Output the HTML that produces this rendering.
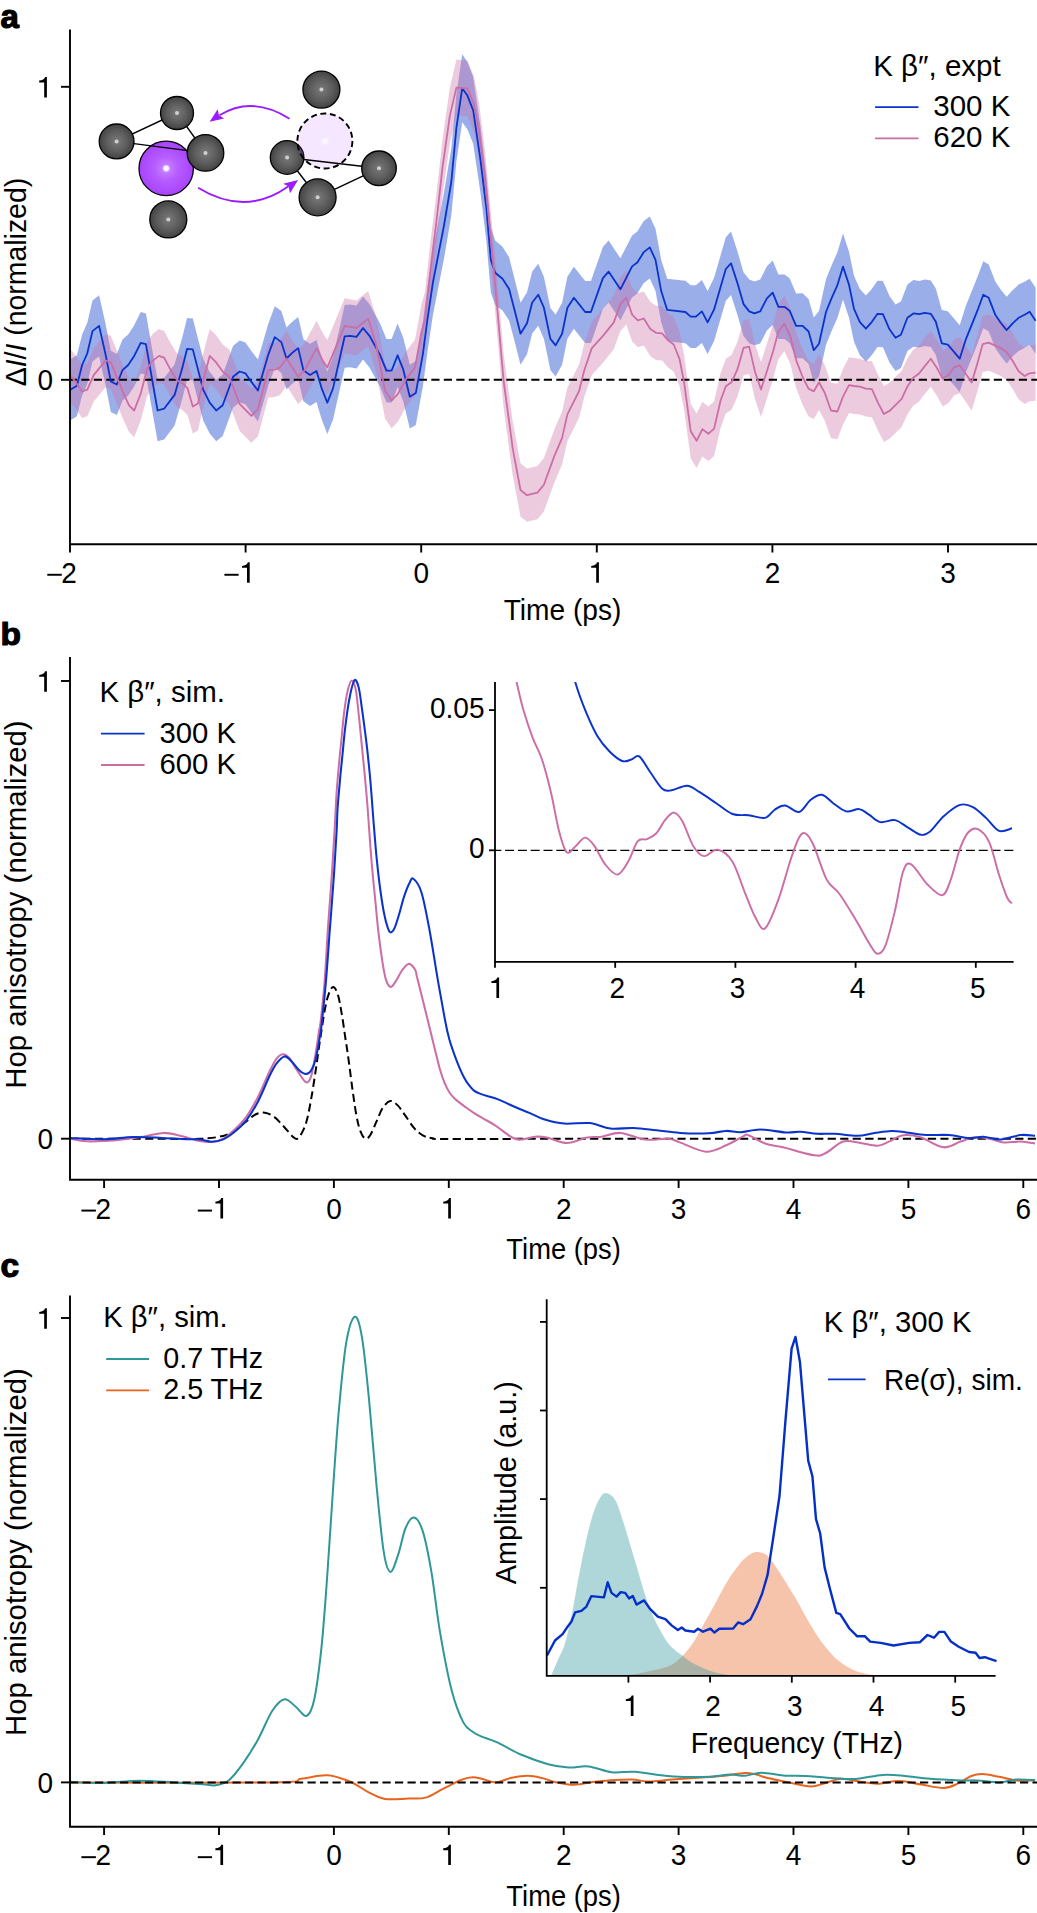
<!DOCTYPE html>
<html><head><meta charset="utf-8"><title>Figure</title>
<style>
html,body{margin:0;padding:0;background:#fff;}
body{width:1037px;height:1913px;overflow:hidden;}
svg{display:block;font-family:"Liberation Sans", sans-serif;}
svg text{fill:#000;}
</style></head><body>
<svg width="1037" height="1913" viewBox="0 0 1037 1913">
<rect width="1037" height="1913" fill="#fff"/>
<text x="0" y="0" transform="translate(0.6 27.7) scale(1 1.0)" font-size="33" text-anchor="start" font-weight="bold" stroke="#000" stroke-width="1.2" stroke-linejoin="round">a</text>
<path d="M70.4 359.2 L76.9 355.3 L82.1 334.5 L87.3 322.8 L92.5 300.6 L99.1 295.3 L105.6 324 L110.8 350.8 L116.8 353.9 L122.5 339.6 L128.2 334.4 L134.2 325.3 L140.7 312.1 L145.9 313.4 L157.6 379.8 L164.1 378 L174.6 364.2 L182.4 336.9 L187.1 318 L192.8 318.6 L203.2 358.9 L209.7 371.9 L216.2 379.7 L222.7 374.5 L233.1 345.8 L239.7 340.6 L245.4 342.4 L251.4 351 L257.9 359.6 L268.3 323.7 L274.8 306.2 L281.3 311.1 L286.5 327.5 L291.7 322.3 L298.2 317.1 L303.4 339.2 L310 343.8 L316.5 339.9 L321.7 357.2 L327.3 371.5 L333 357.1 L344.7 304.9 L349.9 304.4 L356.5 305.4 L363 296.5 L369.5 304.2 L379.9 322.9 L386.4 339 L391.6 338.9 L397.6 323.5 L403.3 337.8 L409.8 364.8 L415.8 361.1 L422.8 322.5 L427.5 286.6 L433 249.4 L443.9 192.9 L451.3 148.5 L456.4 94.2 L462.2 54.3 L467.4 61.9 L473.2 76.9 L480.5 127.1 L486.4 175.7 L490.8 227.2 L495.2 240.5 L502.5 246.8 L509.1 257.3 L515.3 281.7 L520.5 302.7 L527 292.3 L532.2 271.5 L538.2 263.7 L543.9 276.7 L550.4 307.9 L555.6 314.4 L562.1 302.7 L567.4 276.7 L573.9 266.8 L580 274.4 L585.2 281 L590.9 281 L602.9 247.1 L608.6 240.6 L620.4 258.3 L632.1 235.4 L637.3 231.5 L643.8 221.1 L649.8 216.4 L655.5 228.8 L661.2 260 L667.2 278.7 L673.7 279.5 L685.4 280.7 L690.7 285.2 L695.9 285.2 L701.9 279.9 L707.6 290.9 L714.1 277.8 L725.8 237.3 L731 231.6 L737.5 251.5 L743.5 272.2 L749.2 279.5 L754.4 281.4 L760.2 279.4 L766.9 266.3 L772.7 260.5 L778.4 274.6 L784.4 274.5 L789.6 278.3 L796.1 293.4 L802.6 293.3 L808.6 298.9 L813.8 317.6 L819 311 L826 279.2 L831.3 266 L837.4 252.3 L843 233.6 L849 251.8 L854 275.8 L859.9 289.1 L865.9 295.6 L871.9 288.7 L877.5 280.7 L882.9 281.1 L889.5 296.1 L895.5 304.5 L900.9 301.5 L907.4 284.6 L913.4 280.1 L919.4 280.9 L924.8 279.5 L930.8 280.5 L935.8 288.5 L941.8 309.9 L947.8 311.3 L953.8 318.3 L959.7 325.3 L965.7 306.3 L972.1 290.3 L978.1 275.3 L983.3 261.3 L988.7 264.4 L995.3 281.4 L1000.7 289.5 L1006.6 296.8 L1012.6 290.2 L1018.6 284.6 L1024.6 281.7 L1029.6 278.7 L1035.6 287.8 L1035.6 353.8 L1029.6 344.9 L1024.6 347.9 L1018.6 351 L1012.6 356.6 L1006.6 363.4 L1000.7 356.1 L995.3 348.2 L988.7 331.2 L983.3 328.3 L978.1 342.3 L972.1 357.3 L965.7 373.1 L959.7 392.1 L953.8 385.1 L947.8 378.1 L941.8 376.7 L935.8 355.1 L930.8 347.1 L924.8 346.1 L919.4 347.5 L913.4 346.7 L907.4 351 L900.9 367.9 L895.5 370.9 L889.5 362.5 L882.9 347.3 L877.5 346.9 L871.9 354.9 L865.9 361.8 L859.9 355.3 L854 341.8 L849 317.8 L843 299.6 L837.4 318.1 L831.3 331.8 L826 344.8 L819 376.4 L813.8 382.8 L808.6 364.1 L802.6 358.3 L796.1 358.2 L789.6 343.1 L784.4 339.1 L778.4 339 L772.7 324.9 L766.9 330.5 L760.2 343.4 L754.4 345.2 L749.2 343.3 L743.5 336 L737.5 315.1 L731 295 L725.8 300.7 L714.1 341 L707.6 353.9 L701.9 342.9 L695.9 348 L690.7 348 L685.4 343.3 L673.7 341.9 L667.2 341.1 L661.2 322.2 L655.5 290.9 L649.8 278.4 L643.8 283.1 L637.3 293.5 L632.1 297.4 L620.4 320.3 L608.6 302.6 L602.9 309.1 L590.9 343 L585.2 343 L580 336.4 L573.9 328.8 L567.4 338.7 L562.1 364.7 L555.6 376.4 L550.4 369.9 L543.9 338.7 L538.2 325.7 L532.2 333.5 L527 354.3 L520.5 364.7 L515.3 344.1 L509.1 320.5 L502.5 310.6 L495.2 305.1 L490.8 292.2 L486.4 241.1 L480.5 193.1 L473.2 143.7 L467.4 129.3 L462.2 122.3 L456.4 161.6 L451.3 215.5 L443.9 259.1 L433 314.6 L427.5 351.4 L422.8 386.7 L415.8 425.1 L409.8 428.6 L403.3 401.6 L397.6 387.1 L391.6 402.5 L386.4 402.4 L379.9 386.3 L369.5 367.4 L363 359.5 L356.5 368.4 L349.9 367.2 L344.7 367.7 L333 419.7 L327.3 433.9 L321.7 419.6 L316.5 402.1 L310 406 L303.4 401.2 L298.2 379.1 L291.7 384.3 L286.5 389.5 L281.3 373.1 L274.8 368 L268.3 385.5 L257.9 421.4 L251.4 412.8 L245.4 404.2 L239.7 402.4 L233.1 407.6 L222.7 436.1 L216.2 441.3 L209.7 433.5 L203.2 420.5 L192.8 380.2 L187.1 379.6 L182.4 398.3 L174.6 425.6 L164.1 439.4 L157.6 441.2 L145.9 374.8 L140.7 373.5 L134.2 386.5 L128.2 395.6 L122.5 400.8 L116.8 415.1 L110.8 412 L105.6 385.2 L99.1 356.5 L92.5 361.6 L87.3 383.8 L82.1 395.5 L76.9 416.3 L70.4 420.2 Z" fill="rgba(25,70,205,0.44)" stroke="none"/>
<path d="M70.4 348.9 L75.6 355.4 L82.1 365 L87.3 363.1 L93.8 348.3 L105.6 334 L110.8 335.7 L122.5 364.3 L129 378.6 L134.2 383.8 L140.7 366.8 L147.2 342.1 L152.4 334.3 L158.9 329.1 L164.1 330.8 L170.7 343.3 L177.2 353.7 L182.4 356.3 L187.6 361.4 L192.8 379.6 L198 376.5 L203.2 353.6 L209.7 328.9 L216.2 335.3 L222.7 344.4 L229.2 349.6 L239.7 376.9 L251.4 388.6 L257.9 382 L268.3 342.9 L274.8 342.4 L280 340.3 L286.5 331.2 L298.2 349.3 L304.8 342.8 L316.5 320.7 L323 333.6 L327.3 340.1 L344.7 298.3 L356.5 300.4 L368.2 291 L376 316.4 L385.1 363.3 L391.6 372.9 L398.1 365.8 L405.9 351.5 L415 339.8 L421.5 304.2 L424.9 292.2 L430.8 239.1 L436.6 192.2 L442.5 139.5 L449.8 88.1 L456.4 59.6 L467.4 60.4 L474 76.7 L479.1 103.2 L484.9 150.1 L489.3 195.6 L493.7 241.1 L497.6 284.8 L503.6 353.5 L512.7 421.4 L520.5 463.3 L527 468.6 L537.4 466 L543.9 458 L554.3 429.4 L562.1 411.2 L567.4 387.6 L579.1 364.2 L584.3 343.4 L591.7 321.5 L603.4 308.5 L613.8 295.5 L620.4 277.1 L626.3 270.6 L632.1 287.6 L637.8 293.3 L643.8 291.4 L650.3 301.8 L656 305.7 L662 306.2 L668.5 313.4 L673.7 317.3 L679.5 331.6 L684.1 355.1 L690.7 404 L696.6 413.5 L702.4 401.8 L708.4 406.5 L714.1 401.3 L720.6 373.1 L725.8 358.8 L731.5 354.9 L737.5 341.8 L743.5 320.5 L749.2 319.1 L755 344.3 L761 362 L766.9 343.8 L773.2 323.4 L778.4 303.9 L784.4 296.1 L790.4 309.1 L796.1 332.4 L802.6 349.3 L808.6 361.1 L813.8 363.7 L819 354.6 L824.7 364.9 L831 382.7 L837.4 383.7 L843 368.8 L849 357.3 L854 358.1 L859.9 358.7 L865.9 360.7 L871.9 361.2 L877.9 374.6 L883.9 386 L889.9 382.6 L895.9 376.6 L901.5 371.2 L907.4 358.6 L913.4 349.6 L918.8 345.7 L924.8 338.1 L930.8 330.7 L936.8 339.7 L942.8 350.6 L948.8 346.7 L954.2 339.3 L959.7 337.3 L965.7 345.7 L971.7 354.6 L977.3 335.7 L982.7 316.1 L988.7 314.7 L994.7 317.3 L1000.7 320.1 L1006.6 324.1 L1012.6 332.7 L1018.6 343.3 L1024.6 348 L1029.6 345.3 L1035.6 344.7 L1035.6 400.7 L1029.6 401.3 L1024.6 404 L1018.6 399.3 L1012.6 388.7 L1006.6 380.1 L1000.7 376.1 L994.7 373.3 L988.7 370.7 L982.7 372.1 L977.3 391.7 L971.7 410.6 L965.7 401.7 L959.7 393.3 L954.2 395.3 L948.8 402.7 L942.8 406.6 L936.8 395.7 L930.8 386.7 L924.8 394.1 L918.8 401.7 L913.4 405.6 L907.4 414.6 L901.5 427.2 L895.9 432.6 L889.9 438.6 L883.9 442 L877.9 430.6 L871.9 417.2 L865.9 416.5 L859.9 414.5 L854 413.9 L849 413.1 L843 424.4 L837.4 439.3 L831 438.3 L824.7 420.5 L819 410 L813.8 419.1 L808.6 416.5 L802.6 404.7 L796.1 387.8 L790.4 364.3 L784.4 351.3 L778.4 359.1 L773.2 378.6 L766.9 398.8 L761 417 L755 399.3 L749.2 374.1 L743.5 375.3 L737.5 396.6 L731.5 409.7 L725.8 413.6 L720.6 427.9 L714.1 455.9 L708.4 461.1 L702.4 456.4 L696.6 468.1 L690.7 458.4 L684.1 409.5 L679.5 386 L673.7 371.7 L668.5 367.8 L662 360.4 L656 359.9 L650.3 356 L643.8 345.6 L637.8 347.3 L632.1 341.6 L626.3 324.6 L620.4 331.1 L613.8 349.3 L603.4 362.3 L591.7 375.3 L584.3 397 L579.1 417.8 L567.4 441.2 L562.1 464.6 L554.3 482.8 L543.9 511.4 L537.4 519.2 L527 521.8 L520.5 516.7 L512.7 475.2 L503.6 407.7 L497.6 339.2 L493.7 295.7 L489.3 250.4 L484.9 205.1 L479.1 158.4 L474 132.1 L467.4 116.2 L456.4 115.6 L449.8 144.1 L442.5 195.3 L436.6 248 L430.8 294.9 L424.9 348 L421.5 359.8 L415 395.4 L405.9 407.1 L398.1 421.4 L391.6 428.3 L385.1 418.7 L376 371.8 L368.2 346.2 L356.5 355.6 L344.7 353.5 L327.3 395.1 L323 388.6 L316.5 375.5 L304.8 397.6 L298.2 404.1 L286.5 385.8 L280 394.9 L274.8 397 L268.3 397.5 L257.9 436.4 L251.4 443 L239.7 431.1 L229.2 403.8 L222.7 398.6 L216.2 389.5 L209.7 382.9 L203.2 407.6 L198 430.5 L192.8 433.6 L187.6 415.3 L182.4 410.1 L177.2 407.5 L170.7 397.1 L164.1 384.6 L158.9 382.7 L152.4 387.9 L147.2 395.7 L140.7 420.4 L134.2 437.2 L129 432 L122.5 417.7 L110.8 389.1 L105.6 387.2 L93.8 401.5 L87.3 416.3 L82.1 418 L75.6 408.4 L70.4 401.9 Z" fill="rgba(205,110,165,0.36)" stroke="none"/>
<line x1="70" y1="379.8" x2="1037" y2="379.8" stroke="#000" stroke-width="2.0" stroke-dasharray="8.2 4.3" stroke-dashoffset="1.2"/>
<path d="M70.4 389.7 L76.9 385.8 L82.1 365 L87.3 353.3 L92.5 331.1 L99.1 325.9 L105.6 354.6 L110.8 381.4 L116.8 384.5 L122.5 370.2 L128.2 365 L134.2 355.9 L140.7 342.8 L145.9 344.1 L157.6 410.5 L164.1 408.7 L174.6 394.9 L182.4 367.6 L187.1 348.8 L192.8 349.4 L203.2 389.7 L209.7 402.7 L216.2 410.5 L222.7 405.3 L233.1 376.7 L239.7 371.5 L245.4 373.3 L251.4 381.9 L257.9 390.5 L268.3 354.6 L274.8 337.1 L281.3 342.1 L286.5 358.5 L291.7 353.3 L298.2 348.1 L303.4 370.2 L310 374.9 L316.5 371 L321.7 388.4 L327.3 402.7 L333 388.4 L344.7 336.3 L349.9 335.8 L356.5 336.9 L363 328 L369.5 335.8 L379.9 354.6 L386.4 370.7 L391.6 370.7 L397.6 355.3 L403.3 369.7 L409.8 396.7 L415.8 393.1 L422.8 354.6 L427.5 319 L433 282 L443.9 226 L451.3 182 L456.4 127.9 L462.2 88.3 L467.4 95.6 L473.2 110.3 L480.5 160.1 L486.4 208.4 L490.8 259.7 L495.2 272.8 L502.5 278.7 L509.1 288.9 L515.3 312.9 L520.5 333.7 L527 323.3 L532.2 302.5 L538.2 294.7 L543.9 307.7 L550.4 338.9 L555.6 345.4 L562.1 333.7 L567.4 307.7 L573.9 297.8 L580 305.4 L585.2 312 L590.9 312 L602.9 278.1 L608.6 271.6 L620.4 289.3 L632.1 266.4 L637.3 262.5 L643.8 252.1 L649.8 247.4 L655.5 259.9 L661.2 291.1 L667.2 309.9 L673.7 310.7 L685.4 312 L690.7 316.6 L695.9 316.6 L701.9 311.4 L707.6 322.4 L714.1 309.4 L725.8 269 L731 263.3 L737.5 283.3 L743.5 304.1 L749.2 311.4 L754.4 313.3 L760.2 311.4 L766.9 298.4 L772.7 292.7 L778.4 306.8 L784.4 306.8 L789.6 310.7 L796.1 325.8 L802.6 325.8 L808.6 331.5 L813.8 350.2 L819 343.7 L826 312 L831.3 298.9 L837.4 285.2 L843 266.6 L849 284.8 L854 308.8 L859.9 322.2 L865.9 328.7 L871.9 321.8 L877.5 313.8 L882.9 314.2 L889.5 329.3 L895.5 337.7 L900.9 334.7 L907.4 317.8 L913.4 313.4 L919.4 314.2 L924.8 312.8 L930.8 313.8 L935.8 321.8 L941.8 343.3 L947.8 344.7 L953.8 351.7 L959.7 358.7 L965.7 339.7 L972.1 323.8 L978.1 308.8 L983.3 294.8 L988.7 297.8 L995.3 314.8 L1000.7 322.8 L1006.6 330.1 L1012.6 323.4 L1018.6 317.8 L1024.6 314.8 L1029.6 311.8 L1035.6 320.8" fill="none" stroke="#0a33cc" stroke-width="1.8" stroke-linejoin="round"/>
<path d="M70.4 375.4 L75.6 381.9 L82.1 391.5 L87.3 389.7 L93.8 374.9 L105.6 360.6 L110.8 362.4 L122.5 391 L129 405.3 L134.2 410.5 L140.7 393.6 L147.2 368.9 L152.4 361.1 L158.9 355.9 L164.1 357.7 L170.7 370.2 L177.2 380.6 L182.4 383.2 L187.6 388.4 L192.8 406.6 L198 403.5 L203.2 380.6 L209.7 355.9 L216.2 362.4 L222.7 371.5 L229.2 376.7 L239.7 404 L251.4 415.8 L257.9 409.2 L268.3 370.2 L274.8 369.7 L280 367.6 L286.5 358.5 L298.2 376.7 L304.8 370.2 L316.5 348.1 L323 361.1 L327.3 367.6 L344.7 325.9 L356.5 328 L368.2 318.6 L376 344.1 L385.1 391 L391.6 400.6 L398.1 393.6 L405.9 379.3 L415 367.6 L421.5 332 L424.9 320.1 L430.8 267 L436.6 220.1 L442.5 167.4 L449.8 116.1 L456.4 87.6 L467.4 88.3 L474 104.4 L479.1 130.8 L484.9 177.6 L489.3 223 L493.7 268.4 L497.6 312 L503.6 380.6 L512.7 448.3 L520.5 490 L527 495.2 L537.4 492.6 L543.9 484.7 L554.3 456.1 L562.1 437.9 L567.4 414.4 L579.1 391 L584.3 370.2 L591.7 348.4 L603.4 335.4 L613.8 322.4 L620.4 304.1 L626.3 297.6 L632.1 314.6 L637.8 320.3 L643.8 318.5 L650.3 328.9 L656 332.8 L662 333.3 L668.5 340.6 L673.7 344.5 L679.5 358.8 L684.1 382.3 L690.7 431.2 L696.6 440.8 L702.4 429.1 L708.4 433.8 L714.1 428.6 L720.6 400.5 L725.8 386.2 L731.5 382.3 L737.5 369.2 L743.5 347.9 L749.2 346.6 L755 371.8 L761 389.5 L766.9 371.3 L773.2 351 L778.4 331.5 L784.4 323.7 L790.4 336.7 L796.1 360.1 L802.6 377 L808.6 388.8 L813.8 391.4 L819 382.3 L824.7 392.7 L831 410.5 L837.4 411.5 L843 396.6 L849 385.2 L854 386 L859.9 386.6 L865.9 388.6 L871.9 389.2 L877.9 402.6 L883.9 414 L889.9 410.6 L895.9 404.6 L901.5 399.2 L907.4 386.6 L913.4 377.6 L918.8 373.7 L924.8 366.1 L930.8 358.7 L936.8 367.7 L942.8 378.6 L948.8 374.7 L954.2 367.3 L959.7 365.3 L965.7 373.7 L971.7 382.6 L977.3 363.7 L982.7 344.1 L988.7 342.7 L994.7 345.3 L1000.7 348.1 L1006.6 352.1 L1012.6 360.7 L1018.6 371.3 L1024.6 376 L1029.6 373.3 L1035.6 372.7" fill="none" stroke="#cc6ea6" stroke-width="1.8" stroke-linejoin="round"/>
<path d="M70 29.5 V544.2 H1037" stroke="#000" stroke-width="1.9" fill="none"/>
<line x1="61" y1="86.8" x2="70" y2="86.8" stroke="#000" stroke-width="1.9"/>
<line x1="61" y1="379.8" x2="70" y2="379.8" stroke="#000" stroke-width="1.9"/>
<line x1="70" y1="544.2" x2="70" y2="552.5" stroke="#000" stroke-width="1.9"/>
<text x="0" y="0" transform="translate(69.1 582.7) scale(1 1.065)" font-size="28" text-anchor="middle" font-weight="normal">2</text>
<rect x="47.3" y="573.8" width="14.5" height="1.95" fill="#000"/>
<line x1="245.6" y1="544.2" x2="245.6" y2="552.5" stroke="#000" stroke-width="1.9"/>
<path d="M247 582.7 h2.7 v-20.4 h-1.8 c-0.7 2 -2.5 3.4 -5.9 3.6 v1.9 h5 z" fill="#000"/>
<rect x="224.4" y="573.8" width="14.2" height="1.95" fill="#000"/>
<line x1="421.2" y1="544.2" x2="421.2" y2="552.5" stroke="#000" stroke-width="1.9"/>
<text x="0" y="0" transform="translate(421.2 582.7) scale(1 1.065)" font-size="28" text-anchor="middle" font-weight="normal">0</text>
<line x1="596.8" y1="544.2" x2="596.8" y2="552.5" stroke="#000" stroke-width="1.9"/>
<path d="M596.2 582.7 h2.7 v-20.4 h-1.8 c-0.7 2 -2.5 3.4 -5.9 3.6 v1.9 h5 z" fill="#000"/>
<line x1="772.4" y1="544.2" x2="772.4" y2="552.5" stroke="#000" stroke-width="1.9"/>
<text x="0" y="0" transform="translate(772.4 582.7) scale(1 1.065)" font-size="28" text-anchor="middle" font-weight="normal">2</text>
<line x1="948" y1="544.2" x2="948" y2="552.5" stroke="#000" stroke-width="1.9"/>
<text x="0" y="0" transform="translate(948 582.7) scale(1 1.065)" font-size="28" text-anchor="middle" font-weight="normal">3</text>
<path d="M44.2 97.4 h2.7 v-20.4 h-1.8 c-0.7 2 -2.5 3.4 -5.9 3.6 v1.9 h5 z" fill="#000"/>
<text x="0" y="0" transform="translate(53 390) scale(1 1.065)" font-size="28" text-anchor="end" font-weight="normal">0</text>
<text x="0" y="0" transform="translate(562.5 619.5) scale(1 1.065)" font-size="28" text-anchor="middle" font-weight="normal" textLength="117.7" lengthAdjust="spacingAndGlyphs">Time (ps)</text>
<text x="0" y="0" font-size="28" text-anchor="middle" transform="translate(25.7 282.1) rotate(-90) scale(1 1.065)" textLength="208.5" lengthAdjust="spacingAndGlyphs">Δ<tspan font-style="italic">I</tspan>/<tspan font-style="italic">I</tspan> (normalized)</text>
<text x="0" y="0" transform="translate(873.2 75.8) scale(1 1.065)" font-size="28" text-anchor="start" font-weight="normal" textLength="127.5" lengthAdjust="spacingAndGlyphs">K β″, expt</text>
<line x1="875.1" y1="107.1" x2="918.5" y2="107.1" stroke="#0a33cc" stroke-width="1.8"/>
<line x1="875.1" y1="138.4" x2="918.5" y2="138.4" stroke="#cc6ea6" stroke-width="1.8"/>
<text x="0" y="0" transform="translate(933.3 115.8) scale(1 1.065)" font-size="28" text-anchor="start" font-weight="normal" textLength="77" lengthAdjust="spacingAndGlyphs">300 K</text>
<text x="0" y="0" transform="translate(933.3 147.2) scale(1 1.065)" font-size="28" text-anchor="start" font-weight="normal" textLength="77" lengthAdjust="spacingAndGlyphs">620 K</text>
<defs>
<radialGradient id="gs" cx="0.5" cy="0.5" r="0.5" fx="0.5" fy="0.5">
<stop offset="0" stop-color="#7a7a7a"/><stop offset="0.6" stop-color="#5c5c5c"/><stop offset="1" stop-color="#424242"/></radialGradient>
<radialGradient id="gp" cx="0.5" cy="0.5" r="0.5">
<stop offset="0" stop-color="#c98aff"/><stop offset="0.45" stop-color="#b65cff"/><stop offset="1" stop-color="#a843fc"/></radialGradient>
<radialGradient id="hl" cx="0.5" cy="0.5" r="0.5">
<stop offset="0" stop-color="#fff" stop-opacity="1"/><stop offset="0.5" stop-color="#fff" stop-opacity="0.9"/><stop offset="1" stop-color="#fff" stop-opacity="0"/></radialGradient>
<radialGradient id="hl2" cx="0.5" cy="0.5" r="0.5">
<stop offset="0" stop-color="#fff" stop-opacity="0.9"/><stop offset="1" stop-color="#fff" stop-opacity="0"/></radialGradient>
</defs>
<circle cx="166.2" cy="168.4" r="27.2" fill="url(#gp)" stroke="#000" stroke-width="1.3"/>
<circle cx="166.2" cy="168.4" r="4.2" fill="url(#hl)"/>
<line x1="116.6" y1="141.4" x2="177" y2="113" stroke="#000" stroke-width="1.4"/>
<line x1="177" y1="113" x2="205.5" y2="152.9" stroke="#000" stroke-width="1.4"/>
<line x1="116.6" y1="141.4" x2="205.5" y2="152.9" stroke="#000" stroke-width="1.4"/>
<circle cx="116.6" cy="141.4" r="17.4" fill="url(#gs)" stroke="#000" stroke-width="1.3"/>
<circle cx="116.6" cy="141.4" r="2" fill="#cfcfcf"/>
<circle cx="177" cy="113" r="16.5" fill="url(#gs)" stroke="#000" stroke-width="1.3"/>
<circle cx="177" cy="113" r="2" fill="#cfcfcf"/>
<circle cx="205.5" cy="152.9" r="18.3" fill="url(#gs)" stroke="#000" stroke-width="1.3"/>
<circle cx="205.5" cy="152.9" r="2" fill="#cfcfcf"/>
<circle cx="168.3" cy="219.4" r="18.5" fill="url(#gs)" stroke="#000" stroke-width="1.3"/>
<circle cx="168.3" cy="219.4" r="2" fill="#cfcfcf"/>
<circle cx="287.1" cy="157.5" r="16.8" fill="url(#gs)" stroke="#000" stroke-width="1.3"/>
<circle cx="287.1" cy="157.5" r="2" fill="#cfcfcf"/>
<circle cx="324.9" cy="141" r="27.5" fill="rgba(170,72,255,0.135)" stroke="#000" stroke-width="1.9" stroke-dasharray="6 3.6"/>
<circle cx="324.9" cy="141" r="5" fill="url(#hl2)"/>
<line x1="303.8" y1="159.5" x2="379" y2="168.3" stroke="#000" stroke-width="1.4"/>
<line x1="297.3" y1="170.8" x2="317.6" y2="197.3" stroke="#000" stroke-width="1.4"/>
<line x1="317.6" y1="197.3" x2="379" y2="168.3" stroke="#000" stroke-width="1.4"/>
<circle cx="379" cy="168.3" r="17.3" fill="url(#gs)" stroke="#000" stroke-width="1.3"/>
<circle cx="379" cy="168.3" r="2" fill="#cfcfcf"/>
<circle cx="317.6" cy="197.3" r="18.5" fill="url(#gs)" stroke="#000" stroke-width="1.3"/>
<circle cx="317.6" cy="197.3" r="2" fill="#cfcfcf"/>
<circle cx="321.4" cy="89.6" r="18.5" fill="url(#gs)" stroke="#000" stroke-width="1.3"/>
<circle cx="321.4" cy="89.6" r="2" fill="#cfcfcf"/>
<path d="M289.5 118.7 Q252 95.2 219.5 115.3" fill="none" stroke="#9a1cff" stroke-width="1.9"/>
<path d="M209.6 121.7 L217.7 109.3 L218.9 115.3 L224.1 118.5 Z" fill="#9a1cff"/>
<path d="M198.1 187.8 Q245.6 217 288.5 186.3" fill="none" stroke="#9a1cff" stroke-width="1.9"/>
<path d="M298.1 180 L283.2 183.8 L288.5 186.3 L290 193.3 Z" fill="#9a1cff"/>
<text x="0" y="0" transform="translate(0.6 644.5) scale(1 0.94)" font-size="33.5" text-anchor="start" font-weight="bold" stroke="#000" stroke-width="1.2" stroke-linejoin="round">b</text>
<path d="M70 1138.7 C83.3 1138.7 128.3 1138.7 150 1138.7 C171.7 1138.7 187.8 1139.3 200 1138.8 C212.2 1138.3 217.3 1137.2 223.1 1135.9 C228.9 1134.6 230.8 1133.1 234.7 1130.7 C238.6 1128.3 242.8 1124.1 246.3 1121.4 C249.8 1118.7 252.4 1116 255.5 1114.5 C258.6 1113 261.7 1112.3 264.8 1112.7 C267.9 1113.1 271 1114.6 274.1 1116.8 C277.2 1119 280.2 1122.7 283.3 1126 C286.4 1129.3 290.3 1134.4 292.6 1136.5 C294.9 1138.6 295.7 1139.4 297.2 1138.8 C298.7 1138.2 300.2 1135.9 301.8 1133 C303.4 1130.1 304.9 1127 306.5 1121.4 C308.1 1115.8 309.6 1107.9 311.1 1099.4 C312.6 1090.9 314.2 1080.4 315.7 1070.5 C317.2 1060.6 318.4 1050.5 320 1040.2 C321.6 1029.9 323.5 1016.5 325 1008.8 C326.5 1001.1 327.4 997.4 328.8 993.8 C330.2 990.1 331.7 986.9 333.2 986.9 C334.7 986.9 336.2 989.7 337.6 993.8 C339 997.9 340.1 1004.2 341.3 1011.3 C342.6 1018.4 343.9 1028 345.1 1036.4 C346.4 1044.8 347.6 1052.5 348.8 1061.5 C350.1 1070.5 351.3 1081.3 352.6 1090.3 C353.9 1099.3 355.1 1108.7 356.4 1115.4 C357.6 1122.1 358.7 1126.5 360.1 1130.4 C361.6 1134.3 363.4 1137.8 365.1 1138.6 C366.8 1139.4 368.2 1138.2 370.1 1135.4 C372 1132.6 374.3 1126.3 376.4 1121.7 C378.5 1117.1 380.4 1111.4 382.7 1107.9 C385 1104.5 387.7 1101.4 390.2 1101 C392.7 1100.6 395.2 1103 397.7 1105.4 C400.2 1107.8 402.5 1111.7 405.2 1115.4 C407.9 1119.2 411.1 1124.6 414 1127.9 C416.9 1131.2 419.7 1133.7 422.8 1135.4 C425.9 1137.1 428.3 1137.6 432.8 1138.2 C437.3 1138.8 422.1 1138.9 450 1139 C477.9 1139.1 502.2 1138.8 600 1138.7 C697.8 1138.7 964.2 1138.7 1037 1138.7" fill="none" stroke="#000" stroke-width="2.0" stroke-dasharray="8.2 4.3"/>
<path d="M70 1138.7 C72.8 1139.1 79.2 1141 86.8 1141.3 C94.4 1141.5 106.1 1141 115.7 1140.2 C125.3 1139.4 136.7 1137.6 144.6 1136.4 C152.5 1135.2 157.6 1133.1 163.4 1132.9 C169.2 1132.8 173.2 1134.1 179.3 1135.5 C185.4 1136.9 194.6 1140 200 1141.1 C205.4 1142.2 207.8 1142.3 211.6 1142 C215.4 1141.7 219.2 1141.1 223.1 1139 C226.9 1136.9 230.8 1133.2 234.7 1129.5 C238.6 1125.8 242.4 1122.2 246.3 1116.8 C250.2 1111.4 254 1104.6 257.9 1097.1 C261.8 1089.6 266.3 1078.1 269.4 1071.7 C272.5 1065.3 274.2 1061.8 276.4 1058.9 C278.6 1056 280.6 1054.5 282.7 1054.3 C284.8 1054.1 286.7 1055.1 289.1 1057.8 C291.5 1060.5 294.4 1066.5 297.2 1070.5 C300 1074.5 303.6 1081.1 305.9 1082.1 C308.2 1083.1 309.5 1081.1 311.1 1076.3 C312.7 1071.5 314.4 1060.8 315.7 1053.1 C317 1045.4 318.4 1034.9 319.2 1030 C320 1025.1 319.5 1031.6 320.4 1023.8 C321.3 1016 323.2 998.9 324.5 983 C325.8 967.1 326.7 946.8 327.9 928.7 C329.1 910.6 330.8 890.8 331.9 874.3 C333 857.8 333.8 843.8 334.6 830 C335.4 816.2 335.9 802.6 336.7 791.3 C337.5 780 338.4 771.1 339.2 762 C340 752.9 340.9 745.3 341.7 736.9 C342.5 728.5 343.2 719.5 344.2 711.8 C345.2 704.1 346.3 696.1 347.6 690.9 C348.9 685.7 350.4 680.5 351.8 680.5 C353.2 680.5 354.8 684.3 356 690.9 C357.2 697.5 358.3 711.1 359.3 720.2 C360.3 729.3 361 736.9 361.8 745.3 C362.6 753.7 363.5 762 364.3 770.4 C365.1 778.8 365.9 787.2 366.6 795.5 C367.3 803.8 367.9 811.2 368.5 820 C369.1 828.8 369.8 838.6 370.5 848 C371.2 857.4 372 867 372.9 876.4 C373.8 885.8 374.8 895.2 375.7 904.6 C376.6 914 377.4 923.5 378.5 932.9 C379.6 942.3 381.1 953.3 382.3 961.1 C383.6 968.9 384.6 975.6 386 979.9 C387.4 984.2 389.1 986.6 390.7 986.9 C392.3 987.2 393.5 984.5 395.4 981.8 C397.3 979.1 399.8 973.5 402 970.5 C404.2 967.5 406.4 964.1 408.6 963.9 C410.8 963.7 413.5 967 415 969.5 C416.5 972 415.6 971.7 417.4 978.6 C419.1 985.5 422.6 999.3 425.5 1011 C428.4 1022.7 432.4 1039.4 434.8 1048.9 C437.2 1058.4 438 1062.6 439.6 1068.2 C441.2 1073.8 442.9 1078.7 444.5 1082.7 C446.1 1086.7 447.5 1089.6 449.3 1092.3 C451.1 1095 452.7 1096.8 455.1 1099.1 C457.5 1101.3 460.8 1103.5 463.8 1105.8 C466.9 1108 470.2 1110.5 473.4 1112.6 C476.6 1114.7 479.4 1116.3 483 1118.4 C486.6 1120.5 489.8 1121.9 494.7 1125.1 C499.6 1128.3 507.8 1135.1 512.1 1137.5 C516.5 1139.9 516.9 1139.7 520.8 1139.6 C524.6 1139.5 530.9 1137 535.2 1136.7 C539.5 1136.4 541.5 1136.5 546.8 1137.5 C552.1 1138.5 560.2 1143 567 1143 C573.8 1143 581.5 1138.5 587.3 1137.5 C593.1 1136.5 596.2 1137.5 601.8 1136.7 C607.3 1135.9 613.4 1132.4 620.6 1132.9 C627.8 1133.4 637.2 1138.6 645.1 1139.6 C653 1140.6 662.5 1138.2 668.3 1138.7 C674.1 1139.2 673.6 1140.2 679.9 1142.4 C686.2 1144.6 698.2 1151.2 705.9 1151.7 C713.6 1152.2 719.9 1147.9 726.2 1145.3 C732.5 1142.7 739.8 1137.8 743.5 1136.1 C747.2 1134.4 744.9 1134 748.6 1135.3 C752.3 1136.6 760.1 1141.8 765.8 1143.8 C771.5 1145.8 774.9 1145.4 783 1147.3 C791.1 1149.2 807.4 1154.3 814.5 1155.3 C821.6 1156.2 821.1 1155.3 825.9 1153 C830.7 1150.7 837.4 1143.3 843.1 1141.6 C848.8 1139.9 854.6 1142.3 860.3 1143 C866 1143.7 872.7 1146 877.5 1145.8 C882.3 1145.6 884.6 1143.3 888.9 1141.6 C893.2 1139.8 898 1136 903.2 1135.3 C908.5 1134.6 913.7 1135.3 920.4 1137.3 C927.1 1139.3 936.6 1146.6 943.3 1147.3 C950 1148 955.2 1143.3 960.5 1141.6 C965.8 1139.9 970 1137.8 974.8 1137.3 C979.6 1136.8 984.4 1137.8 989.2 1138.7 C994 1139.6 998.2 1141.9 1003.5 1142.4 C1008.8 1142.9 1015.5 1141.4 1020.7 1141.6 C1026 1141.8 1032.6 1143.3 1035 1143.6" fill="none" stroke="#cc6ea6" stroke-width="2.05"/>
<path d="M70 1137.9 C75.7 1138.1 93.6 1139.5 104.1 1139.3 C114.6 1139.1 123.3 1137.2 133 1137 C142.7 1136.8 152.8 1137.5 162 1137.9 C171.2 1138.3 181.7 1139 188 1139.3 C194.3 1139.5 196.1 1139 200 1139.4 C203.9 1139.8 207.8 1141.7 211.6 1141.7 C215.4 1141.7 219.2 1141.1 223.1 1139.4 C226.9 1137.8 230.8 1135 234.7 1131.8 C238.6 1128.6 242.4 1125.3 246.3 1120.3 C250.2 1115.3 254 1109 257.9 1101.7 C261.8 1094.4 266.3 1082.7 269.4 1076.3 C272.5 1069.9 273.9 1066.9 276.4 1063.6 C278.9 1060.3 282 1056.8 284.5 1056.4 C287 1056 288.9 1058.9 291.4 1061.2 C293.9 1063.5 297.1 1068.4 299.5 1070.5 C301.9 1072.6 304 1074 305.9 1074 C307.8 1074 309.5 1073 311.1 1070.5 C312.7 1068 314.2 1064.7 315.7 1058.9 C317.2 1053.1 319 1041.7 320 1035.8 C321 1029.9 320.7 1032.6 321.7 1023.8 C322.7 1015 324.4 998.9 325.8 983 C327.2 967.1 328.5 946.8 329.9 928.7 C331.3 910.6 332.9 890.8 334 874.3 C335.1 857.8 336.1 841 336.7 830 C337.3 819 337 816.6 337.6 808.1 C338.2 799.6 339.3 787.9 340.1 778.8 C340.9 769.7 341.8 762.1 342.6 753.7 C343.4 745.3 344 737.7 345.1 728.6 C346.2 719.5 347.8 707.3 349.3 699.3 C350.8 691.3 352.8 682.6 354.3 680.5 C355.8 678.4 357.2 682.2 358.5 686.7 C359.8 691.2 360.7 700 361.8 707.7 C362.9 715.4 364.2 725.1 365.2 732.8 C366.2 740.5 366.9 746 367.7 753.7 C368.5 761.4 369.4 769.8 370.2 778.8 C371 787.8 371.9 800.3 372.5 808 C373.1 815.7 373.1 816.7 373.8 825 C374.5 833.3 375.5 846.7 376.6 857.6 C377.7 868.5 379.1 881.1 380.4 890.5 C381.7 899.9 382.9 907.7 384.2 914 C385.4 920.3 386.8 925.1 387.9 928.2 C389 931.3 389.6 932.4 390.7 932.4 C391.8 932.4 393.1 931.3 394.5 928.2 C395.9 925.1 397.6 919.2 399.2 914 C400.8 908.8 402.2 902.3 403.9 897.1 C405.6 891.9 407.9 886 409.5 883 C411.1 880 411.3 877.3 413.3 878.8 C415.3 880.3 418.7 883.7 421.4 892.2 C424.1 900.7 426.8 915.6 429.5 930 C432.2 944.4 435 963.6 437.6 978.6 C440.2 993.6 443.1 1009.9 445 1020 C446.9 1030.1 447.8 1033.7 449.3 1039.3 C450.8 1044.9 452.5 1049.3 454.1 1053.8 C455.7 1058.3 457.3 1062.4 458.9 1066.3 C460.5 1070.2 462.2 1073.9 463.8 1076.9 C465.4 1080 466.8 1082.3 468.6 1084.6 C470.4 1086.9 472.3 1089.3 474.4 1090.9 C476.5 1092.5 478.5 1093.1 481.1 1094.1 C483.7 1095.1 487.1 1095.9 489.8 1096.7 C492.5 1097.5 494.6 1098 497.5 1099.1 C500.4 1100.2 503.9 1102 507.1 1103.4 C510.3 1104.9 513 1106.2 516.8 1107.8 C520.6 1109.4 525.5 1111.2 530 1113.1 C534.5 1115 538.2 1117.5 543.9 1119.3 C549.6 1121 556.4 1123 564.1 1123.6 C571.8 1124.2 582.5 1122.3 590.2 1123.1 C597.9 1123.9 603.2 1127.8 610.4 1128.6 C617.6 1129.4 625.9 1127.7 633.6 1128 C641.3 1128.3 649 1129.5 656.7 1130.3 C664.4 1131.1 671.2 1132.4 679.9 1132.9 C688.6 1133.4 701.1 1133.5 708.8 1133.2 C716.5 1132.9 720.9 1131.1 726.2 1130.9 C731.5 1130.8 735 1132.5 740.6 1132.3 C746.2 1132.1 752.5 1129.5 760 1129.5 C767.5 1129.5 779.1 1132 785.8 1132.4 C792.5 1132.8 794.9 1131.6 800.1 1131.8 C805.4 1132 811.6 1133.5 817.3 1133.8 C823 1134.1 827.8 1133.5 834.5 1133.8 C841.2 1134.1 850.7 1135.9 857.4 1135.8 C864.1 1135.7 868.9 1133.8 874.6 1133 C880.3 1132.2 886.5 1131.1 891.8 1131 C897 1130.9 900.4 1131.7 906.1 1132.4 C911.8 1133.1 919 1134.6 926.2 1135 C933.4 1135.4 942 1134.5 949.1 1135 C956.2 1135.5 963.4 1137.8 969.1 1138.1 C974.8 1138.4 978.1 1136.5 983.4 1136.7 C988.6 1136.9 994.4 1139.8 1000.6 1139.5 C1006.8 1139.2 1015 1135.6 1020.7 1135 C1026.4 1134.4 1032.6 1135.7 1035 1135.8" fill="none" stroke="#0a33cc" stroke-width="2.05"/>
<path d="M70 657 V1179.8 H1037" stroke="#000" stroke-width="1.9" fill="none"/>
<line x1="61" y1="681" x2="70" y2="681" stroke="#000" stroke-width="1.9"/>
<line x1="61" y1="1138.7" x2="70" y2="1138.7" stroke="#000" stroke-width="1.9"/>
<path d="M44.2 691.7 h2.7 v-20.4 h-1.8 c-0.7 2 -2.5 3.4 -5.9 3.6 v1.9 h5 z" fill="#000"/>
<text x="0" y="0" transform="translate(53 1149) scale(1 1.065)" font-size="28" text-anchor="end" font-weight="normal">0</text>
<line x1="104.1" y1="1179.8" x2="104.1" y2="1188" stroke="#000" stroke-width="1.9"/>
<text x="0" y="0" transform="translate(103.2 1218.5) scale(1 1.065)" font-size="28" text-anchor="middle" font-weight="normal">2</text>
<rect x="81.4" y="1209.6" width="14.5" height="1.95" fill="#000"/>
<line x1="219" y1="1179.8" x2="219" y2="1188" stroke="#000" stroke-width="1.9"/>
<path d="M220.4 1218.5 h2.7 v-20.4 h-1.8 c-0.7 2 -2.5 3.4 -5.9 3.6 v1.9 h5 z" fill="#000"/>
<rect x="197.8" y="1209.6" width="14.2" height="1.95" fill="#000"/>
<line x1="333.9" y1="1179.8" x2="333.9" y2="1188" stroke="#000" stroke-width="1.9"/>
<text x="0" y="0" transform="translate(333.9 1218.5) scale(1 1.065)" font-size="28" text-anchor="middle" font-weight="normal">0</text>
<line x1="448.8" y1="1179.8" x2="448.8" y2="1188" stroke="#000" stroke-width="1.9"/>
<path d="M448.2 1218.5 h2.7 v-20.4 h-1.8 c-0.7 2 -2.5 3.4 -5.9 3.6 v1.9 h5 z" fill="#000"/>
<line x1="563.7" y1="1179.8" x2="563.7" y2="1188" stroke="#000" stroke-width="1.9"/>
<text x="0" y="0" transform="translate(563.7 1218.5) scale(1 1.065)" font-size="28" text-anchor="middle" font-weight="normal">2</text>
<line x1="678.6" y1="1179.8" x2="678.6" y2="1188" stroke="#000" stroke-width="1.9"/>
<text x="0" y="0" transform="translate(678.6 1218.5) scale(1 1.065)" font-size="28" text-anchor="middle" font-weight="normal">3</text>
<line x1="793.5" y1="1179.8" x2="793.5" y2="1188" stroke="#000" stroke-width="1.9"/>
<text x="0" y="0" transform="translate(793.5 1218.5) scale(1 1.065)" font-size="28" text-anchor="middle" font-weight="normal">4</text>
<line x1="908.4" y1="1179.8" x2="908.4" y2="1188" stroke="#000" stroke-width="1.9"/>
<text x="0" y="0" transform="translate(908.4 1218.5) scale(1 1.065)" font-size="28" text-anchor="middle" font-weight="normal">5</text>
<line x1="1023.3" y1="1179.8" x2="1023.3" y2="1188" stroke="#000" stroke-width="1.9"/>
<text x="0" y="0" transform="translate(1023.3 1218.5) scale(1 1.065)" font-size="28" text-anchor="middle" font-weight="normal">6</text>
<text x="0" y="0" transform="translate(563.6 1258.7) scale(1 1.065)" font-size="28" text-anchor="middle" font-weight="normal" textLength="114.5" lengthAdjust="spacingAndGlyphs">Time (ps)</text>
<text x="0" y="0" font-size="28" text-anchor="middle" transform="translate(26.3 904.6) rotate(-90) scale(1 1.065)" textLength="368.3" lengthAdjust="spacingAndGlyphs">Hop anisotropy (normalized)</text>
<text x="0" y="0" transform="translate(99.4 702.4) scale(1 1.065)" font-size="28" text-anchor="start" font-weight="normal" textLength="125.6" lengthAdjust="spacingAndGlyphs">K β″, sim.</text>
<line x1="101" y1="733.6" x2="144.6" y2="733.6" stroke="#0a33cc" stroke-width="1.8"/>
<line x1="101" y1="765" x2="144.6" y2="765" stroke="#cc6ea6" stroke-width="1.8"/>
<text x="0" y="0" transform="translate(159.4 742.7) scale(1 1.065)" font-size="28" text-anchor="start" font-weight="normal" textLength="76.6" lengthAdjust="spacingAndGlyphs">300 K</text>
<text x="0" y="0" transform="translate(159.4 774.1) scale(1 1.065)" font-size="28" text-anchor="start" font-weight="normal" textLength="76.6" lengthAdjust="spacingAndGlyphs">600 K</text>
<clipPath id="cb"><rect x="495" y="682" width="520" height="280"/></clipPath>
<line x1="495" y1="850.3" x2="1013.6" y2="850.3" stroke="#000" stroke-width="1.25" stroke-dasharray="9 3.8" stroke-dashoffset="2.7"/>
<g clip-path="url(#cb)">
<path d="M512 665 C512.8 667.9 514.7 674.8 516.6 682.3 C518.5 689.8 520.7 700.8 523.4 710.1 C526.1 719.4 529.6 729.7 532.7 737.9 C535.8 746.1 538.9 750.2 542 759.5 C545.1 768.8 548.4 781.6 551.2 793.4 C554 805.2 556.3 820.7 558.9 830.5 C561.5 840.3 563.8 849.5 566.6 852.1 C569.4 854.7 572.8 848.3 575.9 845.9 C579 843.5 582.1 837.6 585.2 837.6 C588.3 837.6 591.1 841.4 594.4 845.9 C597.7 850.4 601.3 859.6 605.2 864.4 C609.1 869.2 613.7 875.1 617.6 874.6 C621.5 874.1 625.1 866.8 628.4 861.3 C631.7 855.8 634.5 845 637.6 841.3 C640.7 837.6 643.8 840.4 646.9 839.1 C650 837.8 653 836.7 656.1 833.5 C659.2 830.3 662.4 823.2 665.4 819.7 C668.4 816.2 671.2 812.4 674 812.6 C676.8 812.9 679.2 815.7 682.4 821.2 C685.6 826.8 689.6 840.1 693.2 845.9 C696.8 851.7 699.9 855.5 704 856.1 C708.1 856.7 713.1 848.8 717.9 849.7 C722.6 850.6 727.9 854.3 732.5 861.7 C737.1 869.1 741.7 885 745.5 894.2 C749.3 903.4 752 911.3 755.2 917 C758.5 922.7 761.2 931.1 765 928.4 C768.8 925.7 773.7 912.4 778 900.7 C782.3 889.1 787.5 869 791 858.5 C794.5 848 796.7 841.6 799.1 837.4 C801.5 833.2 803.2 832.1 805.6 833.5 C808 834.9 810.2 837.8 813.7 845.5 C817.2 853.2 822.4 871.5 826.7 879.6 C831 887.7 834.8 887.4 839.7 894.2 C844.6 901 851.1 912.1 856 920.2 C860.9 928.3 865.5 937.4 869 943 C872.5 948.6 874.4 953.2 877.1 953.7 C879.8 954.2 882.2 953.4 885.2 946.2 C888.2 939 892 923 895 910.5 C898 898 900.4 879.2 903.1 871.5 C905.8 863.8 907.1 862.1 911.2 864.3 C915.3 866.5 922.4 879.4 927.5 884.5 C932.6 889.6 938.3 895.8 942.1 895.2 C945.9 894.7 947.2 889 950.2 881.2 C953.2 873.5 957 856.8 960 848.7 C963 840.6 965.1 835.8 968.1 832.5 C971.1 829.2 974.4 827.6 977.9 829.2 C981.4 830.8 985.7 834.6 989.2 842.2 C992.7 849.8 996 865.6 999 874.8 C1002 884 1004.9 892.7 1007.1 897.5 C1009.3 902.3 1011.2 902.4 1012 903.4" fill="none" stroke="#cc6ea6" stroke-width="1.95"/>
<path d="M571 660 C571.7 663.7 572.9 673.9 575.3 682.3 C577.7 690.6 581.5 701.1 585.2 710.1 C588.9 719.1 593.4 729.3 597.5 736.3 C601.6 743.2 605.7 747.7 609.8 751.8 C613.9 755.9 618.6 759.7 622.2 761 C625.8 762.3 628.6 760.3 631.4 759.5 C634.2 758.7 636.1 754.4 639.2 756.4 C642.3 758.4 646.1 766.4 650 771.8 C653.9 777.2 658.7 785.7 662.3 788.8 C665.9 791.9 667.5 790.8 671.6 790.3 C675.7 789.8 682.4 785.4 687 785.7 C691.6 786 694.4 789 699.3 791.9 C704.2 794.8 710.7 799.5 716.2 803.2 C721.7 806.9 727.1 812 732.5 814 C737.9 816 743.3 814.6 748.7 815.3 C754.1 815.9 760.7 818.8 765 817.9 C769.3 817 771.4 811.8 774.7 809.7 C778.1 807.6 781 805.1 785.1 805.5 C789.2 805.9 794.9 812.9 799.1 812 C803.3 811.1 806.7 802.9 810.5 800 C814.3 797.1 818.1 794.3 821.9 794.8 C825.7 795.3 829.2 800.4 833.2 803.2 C837.2 806 841.9 810.4 846.2 811.4 C850.5 812.4 855.4 808.6 859.2 809.1 C863 809.6 865.5 812.4 869 814.6 C872.5 816.8 876.1 821.2 880.4 822.1 C884.7 823 890.4 819.2 895 820.1 C899.6 821 903.7 825.2 908 827.6 C912.3 830 917.2 834.2 921 834.8 C924.8 835.3 926.9 834 930.7 830.9 C934.5 827.8 938.8 820.5 943.7 816.2 C948.6 811.9 955.1 806.4 960 804.9 C964.9 803.4 968.7 804.9 973 807.1 C977.3 809.3 981.7 813.9 986 817.9 C990.3 821.9 994.7 829.2 999 830.9 C1003.3 832.6 1009.8 828.7 1012 828.3" fill="none" stroke="#0a33cc" stroke-width="1.95"/>
</g>
<path d="M495 682 V961.8 H1013.6" stroke="#000" stroke-width="1.8" fill="none"/>
<line x1="489" y1="710.1" x2="495" y2="710.1" stroke="#000" stroke-width="1.8"/>
<line x1="489" y1="850.3" x2="495" y2="850.3" stroke="#000" stroke-width="1.8"/>
<text x="0" y="0" transform="translate(484.5 717.5) scale(1 1.065)" font-size="28" text-anchor="end" font-weight="normal" textLength="54.6" lengthAdjust="spacingAndGlyphs">0.05</text>
<text x="0" y="0" transform="translate(484.5 857.8) scale(1 1.065)" font-size="28" text-anchor="end" font-weight="normal">0</text>
<line x1="495" y1="961.8" x2="495" y2="967.8" stroke="#000" stroke-width="1.8"/>
<path d="M496.4 998 h2.7 v-20.4 h-1.8 c-0.7 2 -2.5 3.4 -5.9 3.6 v1.9 h5 z" fill="#000"/>
<line x1="615.2" y1="961.8" x2="615.2" y2="967.8" stroke="#000" stroke-width="1.8"/>
<text x="0" y="0" transform="translate(617.2 998) scale(1 1.065)" font-size="28" text-anchor="middle" font-weight="normal">2</text>
<line x1="735.4" y1="961.8" x2="735.4" y2="967.8" stroke="#000" stroke-width="1.8"/>
<text x="0" y="0" transform="translate(737.4 998) scale(1 1.065)" font-size="28" text-anchor="middle" font-weight="normal">3</text>
<line x1="855.6" y1="961.8" x2="855.6" y2="967.8" stroke="#000" stroke-width="1.8"/>
<text x="0" y="0" transform="translate(857.6 998) scale(1 1.065)" font-size="28" text-anchor="middle" font-weight="normal">4</text>
<line x1="975.8" y1="961.8" x2="975.8" y2="967.8" stroke="#000" stroke-width="1.8"/>
<text x="0" y="0" transform="translate(977.8 998) scale(1 1.065)" font-size="28" text-anchor="middle" font-weight="normal">5</text>
<text x="0" y="0" transform="translate(0.4 1277.4) scale(1 1.0)" font-size="33.5" text-anchor="start" font-weight="bold" stroke="#000" stroke-width="1.2" stroke-linejoin="round">c</text>
<path d="M70 1782.4 C103.7 1782.4 233.8 1783.1 272.3 1782.5 C310.9 1781.9 292.1 1780 301.3 1778.8 C310.5 1777.6 319.1 1774.8 327.3 1775.3 C335.5 1775.8 343.6 1779 350.4 1781.7 C357.1 1784.5 362 1788.9 367.8 1791.8 C373.6 1794.7 378.4 1797.9 385.1 1799 C391.9 1800.1 401.5 1798.7 408.3 1798.5 C415.1 1798.3 419.9 1799.2 425.7 1797.6 C431.5 1796 437.2 1791.8 443 1788.9 C448.8 1786 455.6 1782.1 460.4 1780.2 C465.2 1778.3 468.4 1777.5 471.9 1777.3 C475.4 1777 477.6 1777.8 481.6 1778.7 C485.6 1779.6 491.2 1782.5 496 1782.4 C500.8 1782.3 505.2 1779.2 510.5 1778.1 C515.8 1777 522.6 1775.8 527.9 1775.8 C533.2 1775.8 537.5 1777 542.3 1778.1 C547.1 1779.2 551.5 1781.3 556.8 1782.4 C562.1 1783.5 568.3 1784.8 574.1 1784.8 C579.9 1784.8 585.7 1782.9 591.5 1782.2 C597.3 1781.5 602.1 1780.8 608.9 1780.4 C615.6 1780 625.2 1779.4 632 1779.6 C638.8 1779.8 642.6 1781.6 649.4 1781.6 C656.1 1781.6 663.8 1780.3 672.5 1779.6 C681.2 1778.9 692.7 1778.1 701.4 1777.5 C710.1 1776.9 717.4 1776.6 724.6 1775.8 C731.8 1775 739.5 1773.1 744.8 1772.9 C750.1 1772.7 752.8 1773.8 756.4 1774.6 C760 1775.4 761.2 1776.4 766.6 1777.7 C772 1779 781.3 1780.9 788.7 1782.4 C796.1 1783.9 804.9 1786.4 810.9 1786.5 C816.9 1786.6 819.6 1784.5 824.7 1783.2 C829.8 1781.9 835.3 1779 841.3 1778.8 C847.3 1778.6 854.7 1781 860.7 1781.8 C866.7 1782.6 870.8 1783.8 877.3 1783.7 C883.8 1783.6 892.1 1780.8 899.5 1781 C906.9 1781.2 914.2 1783.4 921.6 1784.6 C929 1785.8 937.7 1788.1 943.7 1787.9 C949.7 1787.8 953 1785.7 957.6 1783.7 C962.2 1781.7 967.2 1777.6 971.4 1776 C975.5 1774.4 977.9 1774 982.5 1774.1 C987.1 1774.2 993.6 1775.8 999.1 1776.8 C1004.6 1777.8 1009.7 1779.8 1015.7 1780.4 C1021.7 1781 1031.9 1780.4 1035.1 1780.4" fill="none" stroke="#e8641e" stroke-width="2"/>
<path d="M70 1781.8 C75.7 1782 92.6 1783.2 104.1 1783 C115.6 1782.8 127.2 1780.8 138.8 1780.7 C150.4 1780.6 163 1781.8 173.6 1782.4 C184.2 1783 195.5 1783.7 202.5 1784.2 C209.5 1784.7 211.1 1786 215.5 1785.3 C219.9 1784.6 224.2 1783.9 228.9 1780.2 C233.6 1776.5 238.6 1769.7 243.4 1762.9 C248.2 1756.2 253.1 1748.4 257.9 1739.7 C262.7 1731 267.9 1717.5 272.3 1710.8 C276.7 1704 280.6 1699.9 284.5 1699.2 C288.4 1698.5 291.8 1703.7 295.5 1706.5 C299.2 1709.3 303.4 1717.2 306.5 1716 C309.6 1714.8 311.8 1710.7 314.3 1699.2 C316.8 1687.7 319.3 1667.9 321.5 1647.2 C323.7 1626.5 325.4 1601.3 327.3 1574.8 C329.2 1548.3 331.2 1515.5 333.1 1488 C335 1460.5 336.7 1434 338.9 1409.9 C341.1 1385.8 343.5 1358.9 346.1 1343.4 C348.8 1327.9 352.2 1317.8 354.8 1316.8 C357.4 1315.8 359.6 1323.5 362 1337.6 C364.4 1351.7 366.8 1376.7 369.2 1401.3 C371.6 1425.9 374.1 1460 376.5 1485.1 C378.9 1510.2 381.4 1537.2 383.7 1551.7 C386 1566.2 388 1571.4 390.4 1571.9 C392.8 1572.4 395.7 1561.8 398.2 1554.6 C400.7 1547.4 402.8 1534.7 405.4 1528.5 C408 1522.3 411.2 1517.1 414.1 1517.6 C417 1518.1 419.9 1522.4 422.8 1531.4 C425.7 1540.5 428.5 1555 431.4 1571.9 C434.3 1588.8 436.7 1612.9 440.1 1632.7 C443.5 1652.5 447.8 1675.5 451.7 1690.5 C455.6 1705.5 459.8 1715.5 463.3 1722.4 C466.9 1729.3 470.1 1729.7 473 1732 C475.9 1734.3 477.2 1734.6 481 1736.3 C484.8 1738 489.1 1738.8 496 1741.9 C502.9 1745 513.4 1751.3 522.1 1755 C530.8 1758.7 540.4 1762.1 548.1 1764.2 C555.8 1766.3 561.6 1767 568.4 1767.4 C575.1 1767.8 581.4 1765.7 588.6 1766.5 C595.8 1767.3 604.1 1771.4 611.8 1772.3 C619.5 1773.2 626.7 1771.2 634.9 1771.7 C643.1 1772.2 652.7 1774.3 660.9 1775.2 C669.1 1776.1 675.9 1776.8 684.1 1777 C692.3 1777.2 702.4 1777.1 710.1 1776.7 C717.8 1776.3 724.6 1774.8 730.4 1774.6 C736.2 1774.4 739.7 1776.1 744.8 1775.8 C749.9 1775.5 754.7 1772.8 761.1 1772.7 C767.5 1772.6 775.8 1774.9 783.2 1775.4 C790.6 1776 798 1775.6 805.4 1776 C812.8 1776.4 819.2 1777.2 827.5 1777.7 C835.8 1778.2 846 1779.5 855.2 1779 C864.4 1778.5 874.5 1775.4 882.8 1774.9 C891.1 1774.4 897.1 1775.3 905 1776 C912.9 1776.7 920.7 1778.1 929.9 1778.8 C939.1 1779.5 952.4 1780.1 960.3 1780.4 C968.1 1780.7 970.5 1780.1 977 1780.4 C983.5 1780.7 992.6 1782.5 999.1 1782.4 C1005.6 1782.3 1009.7 1780 1015.7 1779.6 C1021.7 1779.2 1031.9 1780 1035.1 1780.1" fill="none" stroke="#2f9797" stroke-width="2"/>
<line x1="70" y1="1782.4" x2="1037" y2="1782.4" stroke="#000" stroke-width="2.0" stroke-dasharray="8.2 4.3"/>
<path d="M70 1295.4 V1826.7 H1037" stroke="#000" stroke-width="1.9" fill="none"/>
<line x1="61" y1="1318" x2="70" y2="1318" stroke="#000" stroke-width="1.9"/>
<line x1="61" y1="1782.4" x2="70" y2="1782.4" stroke="#000" stroke-width="1.9"/>
<path d="M44.2 1328.7 h2.7 v-20.4 h-1.8 c-0.7 2 -2.5 3.4 -5.9 3.6 v1.9 h5 z" fill="#000"/>
<text x="0" y="0" transform="translate(53 1792.8) scale(1 1.065)" font-size="28" text-anchor="end" font-weight="normal">0</text>
<line x1="104.1" y1="1826.7" x2="104.1" y2="1835" stroke="#000" stroke-width="1.9"/>
<text x="0" y="0" transform="translate(103.2 1865.1) scale(1 1.065)" font-size="28" text-anchor="middle" font-weight="normal">2</text>
<rect x="81.4" y="1856.2" width="14.5" height="1.95" fill="#000"/>
<line x1="219" y1="1826.7" x2="219" y2="1835" stroke="#000" stroke-width="1.9"/>
<path d="M220.4 1865.1 h2.7 v-20.4 h-1.8 c-0.7 2 -2.5 3.4 -5.9 3.6 v1.9 h5 z" fill="#000"/>
<rect x="197.8" y="1856.2" width="14.2" height="1.95" fill="#000"/>
<line x1="333.9" y1="1826.7" x2="333.9" y2="1835" stroke="#000" stroke-width="1.9"/>
<text x="0" y="0" transform="translate(333.9 1865.1) scale(1 1.065)" font-size="28" text-anchor="middle" font-weight="normal">0</text>
<line x1="448.8" y1="1826.7" x2="448.8" y2="1835" stroke="#000" stroke-width="1.9"/>
<path d="M448.2 1865.1 h2.7 v-20.4 h-1.8 c-0.7 2 -2.5 3.4 -5.9 3.6 v1.9 h5 z" fill="#000"/>
<line x1="563.7" y1="1826.7" x2="563.7" y2="1835" stroke="#000" stroke-width="1.9"/>
<text x="0" y="0" transform="translate(563.7 1865.1) scale(1 1.065)" font-size="28" text-anchor="middle" font-weight="normal">2</text>
<line x1="678.6" y1="1826.7" x2="678.6" y2="1835" stroke="#000" stroke-width="1.9"/>
<text x="0" y="0" transform="translate(678.6 1865.1) scale(1 1.065)" font-size="28" text-anchor="middle" font-weight="normal">3</text>
<line x1="793.5" y1="1826.7" x2="793.5" y2="1835" stroke="#000" stroke-width="1.9"/>
<text x="0" y="0" transform="translate(793.5 1865.1) scale(1 1.065)" font-size="28" text-anchor="middle" font-weight="normal">4</text>
<line x1="908.4" y1="1826.7" x2="908.4" y2="1835" stroke="#000" stroke-width="1.9"/>
<text x="0" y="0" transform="translate(908.4 1865.1) scale(1 1.065)" font-size="28" text-anchor="middle" font-weight="normal">5</text>
<line x1="1023.3" y1="1826.7" x2="1023.3" y2="1835" stroke="#000" stroke-width="1.9"/>
<text x="0" y="0" transform="translate(1023.3 1865.1) scale(1 1.065)" font-size="28" text-anchor="middle" font-weight="normal">6</text>
<text x="0" y="0" transform="translate(563.6 1905.6) scale(1 1.065)" font-size="28" text-anchor="middle" font-weight="normal" textLength="114.5" lengthAdjust="spacingAndGlyphs">Time (ps)</text>
<text x="0" y="0" font-size="28" text-anchor="middle" transform="translate(26.3 1552.1) rotate(-90) scale(1 1.065)" textLength="367.6" lengthAdjust="spacingAndGlyphs">Hop anisotropy (normalized)</text>
<text x="0" y="0" transform="translate(103.2 1327) scale(1 1.065)" font-size="28" text-anchor="start" font-weight="normal" textLength="124.5" lengthAdjust="spacingAndGlyphs">K β″, sim.</text>
<line x1="106.2" y1="1359" x2="149" y2="1359" stroke="#2f9797" stroke-width="1.8"/>
<line x1="106.2" y1="1390.3" x2="149" y2="1390.3" stroke="#e8641e" stroke-width="1.8"/>
<text x="0" y="0" transform="translate(163.2 1368.4) scale(1 1.065)" font-size="28" text-anchor="start" font-weight="normal" textLength="100" lengthAdjust="spacingAndGlyphs">0.7 THz</text>
<text x="0" y="0" transform="translate(163.2 1399.4) scale(1 1.065)" font-size="28" text-anchor="start" font-weight="normal" textLength="100" lengthAdjust="spacingAndGlyphs">2.5 THz</text>
<path d="M605 1675.6 C608.8 1675.5 619.8 1675.9 627.8 1675.1 C635.8 1674.3 645.7 1672.2 652.8 1670.6 C659.9 1669 665.4 1668.1 670.4 1665.6 C675.4 1663.1 679.1 1659.3 682.9 1655.5 C686.6 1651.7 689.5 1648 692.9 1643 C696.2 1638 699.2 1632.1 703 1625.4 C706.8 1618.7 711.3 1610.4 715.5 1602.9 C719.7 1595.4 723.8 1587 728 1580.3 C732.2 1573.6 736.8 1567.2 740.6 1562.8 C744.4 1558.4 747.5 1555.8 750.6 1554 C753.7 1552.2 756.5 1551.8 759.4 1552.2 C762.3 1552.6 765.1 1553.5 768.2 1556.5 C771.3 1559.5 774.5 1564.7 778.2 1570.3 C782 1575.9 787.5 1585.1 790.7 1590.3 C793.9 1595.5 794 1595.5 797.3 1601.2 C800.6 1606.9 806 1617.4 810.3 1624.6 C814.6 1631.8 818.5 1638.1 823.3 1644.2 C828.1 1650.3 833.2 1656.5 838.9 1661.1 C844.5 1665.6 850.7 1669.1 857.2 1671.5 C863.7 1673.9 871.7 1674.9 878 1675.6 C884.3 1676.3 892.2 1675.6 895 1675.6 Z" fill="rgba(232,105,45,0.40)" stroke="none"/>
<path d="M551.3 1675.6 C552.3 1673.1 555.3 1666 557.6 1660.6 C559.9 1655.2 562.6 1651.4 565.1 1643 C567.6 1634.6 570.5 1620.4 572.6 1610.4 C574.7 1600.4 575.5 1593.7 577.6 1582.8 C579.7 1571.9 582.6 1556.5 585.1 1545.2 C587.6 1533.9 590.2 1523 592.7 1515.1 C595.2 1507.2 597.9 1501.3 600.2 1497.6 C602.5 1493.9 603.9 1492.7 606.4 1493.1 C608.9 1493.5 612.5 1495.6 615.2 1500.1 C617.9 1504.6 620.2 1512.6 622.7 1520.1 C625.2 1527.6 627.8 1536.8 630.3 1545.2 C632.8 1553.6 635.3 1561.9 637.8 1570.3 C640.3 1578.7 642.8 1587.9 645.3 1595.4 C647.8 1602.9 650.3 1609.6 652.8 1615.4 C655.3 1621.2 657.8 1625.9 660.3 1630.5 C662.8 1635.1 665.4 1639.7 667.9 1643 C670.4 1646.3 672.9 1648.3 675.4 1650.5 C677.9 1652.7 680.4 1654.1 682.9 1656 C685.4 1657.9 687 1659.8 690.4 1661.8 C693.8 1663.8 698.8 1666.3 703 1668.1 C707.2 1669.9 710.9 1671.3 715.5 1672.6 C720.1 1673.8 728 1675.1 730.5 1675.6 Z" fill="rgba(50,152,158,0.39)" stroke="none"/>
<path d="M547 1655.5 L555 1640.5 L562.6 1634.2 L567.6 1626.7 L571.3 1621.7 L575.1 1612.4 L581.4 1610.9 L586.4 1606.6 L591.4 1596.1 L603.9 1597.4 L607.7 1582.3 L611.5 1592.9 L616.5 1596.6 L620.7 1592.1 L625.2 1592.9 L629 1598.4 L632.8 1596.1 L636.5 1604.6 L644 1600.4 L650.3 1609.2 L657.8 1616.7 L665.4 1619.2 L671.6 1625.4 L677.9 1630 L681.7 1627.5 L685.4 1630.5 L694.2 1631.7 L698 1628.7 L703 1631.7 L710.5 1628.7 L714.3 1632.5 L719.3 1628.7 L733.1 1628.5 L738.1 1622.4 L743.1 1624.2 L750.5 1619.3 L756.9 1606.4 L762 1594 L767.5 1575.2 L773.5 1536 L779.5 1496 L785.6 1418.9 L791.6 1348.6 L795.5 1336.9 L799.9 1361.7 L808.2 1460.6 L812.4 1476.2 L816 1519.2 L820.2 1533.5 L824.6 1567.4 L829.8 1588.2 L836.3 1612.9 L840.2 1614.2 L849.4 1628.5 L857.2 1636.3 L865 1636.3 L870.2 1641.6 L880.6 1642.9 L893.6 1645.5 L909.2 1642.9 L919.7 1642.3 L927.5 1635 L934 1637.7 L939.2 1631.9 L944.4 1631.9 L950.9 1641.6 L958.7 1646.8 L969.1 1652 L975.6 1652.8 L979.5 1658 L984.7 1657.2 L996.5 1661.1" fill="none" stroke="#0530c8" stroke-width="2.4" stroke-linejoin="round"/>
<path d="M546.7 1299.2 V1675.8 H995.6" stroke="#000" stroke-width="1.8" fill="none"/>
<line x1="540" y1="1321.9" x2="546.7" y2="1321.9" stroke="#000" stroke-width="1.8"/>
<line x1="540" y1="1410.5" x2="546.7" y2="1410.5" stroke="#000" stroke-width="1.8"/>
<line x1="540" y1="1499.1" x2="546.7" y2="1499.1" stroke="#000" stroke-width="1.8"/>
<line x1="540" y1="1587.8" x2="546.7" y2="1587.8" stroke="#000" stroke-width="1.8"/>
<line x1="628.4" y1="1675.8" x2="628.4" y2="1682.6" stroke="#000" stroke-width="1.8"/>
<path d="M630.8 1716 h2.7 v-20.4 h-1.8 c-0.7 2 -2.5 3.4 -5.9 3.6 v1.9 h5 z" fill="#000"/>
<line x1="710.1" y1="1675.8" x2="710.1" y2="1682.6" stroke="#000" stroke-width="1.8"/>
<text x="0" y="0" transform="translate(713.1 1716) scale(1 1.065)" font-size="28" text-anchor="middle" font-weight="normal">2</text>
<line x1="791.8" y1="1675.8" x2="791.8" y2="1682.6" stroke="#000" stroke-width="1.8"/>
<text x="0" y="0" transform="translate(794.8 1716) scale(1 1.065)" font-size="28" text-anchor="middle" font-weight="normal">3</text>
<line x1="873.5" y1="1675.8" x2="873.5" y2="1682.6" stroke="#000" stroke-width="1.8"/>
<text x="0" y="0" transform="translate(876.5 1716) scale(1 1.065)" font-size="28" text-anchor="middle" font-weight="normal">4</text>
<line x1="955.2" y1="1675.8" x2="955.2" y2="1682.6" stroke="#000" stroke-width="1.8"/>
<text x="0" y="0" transform="translate(958.2 1716) scale(1 1.065)" font-size="28" text-anchor="middle" font-weight="normal">5</text>
<text x="0" y="0" transform="translate(796.8 1752.6) scale(1 1.065)" font-size="28" text-anchor="middle" font-weight="normal" textLength="212.3" lengthAdjust="spacingAndGlyphs">Frequency (THz)</text>
<text x="0" y="0" font-size="28" text-anchor="middle" transform="translate(516 1482.7) rotate(-90) scale(1 1.065)" textLength="203" lengthAdjust="spacingAndGlyphs">Amplitude (a.u.)</text>
<text x="0" y="0" transform="translate(823.8 1332) scale(1 1.065)" font-size="28" text-anchor="start" font-weight="normal" textLength="147.7" lengthAdjust="spacingAndGlyphs">K β″, 300 K</text>
<line x1="828" y1="1379.4" x2="865.6" y2="1379.4" stroke="#0a33cc" stroke-width="1.8"/>
<text x="0" y="0" transform="translate(884 1390) scale(1 1.065)" font-size="28" text-anchor="start" font-weight="normal" textLength="138.8" lengthAdjust="spacingAndGlyphs">Re(σ), sim.</text>
</svg>
</body></html>
